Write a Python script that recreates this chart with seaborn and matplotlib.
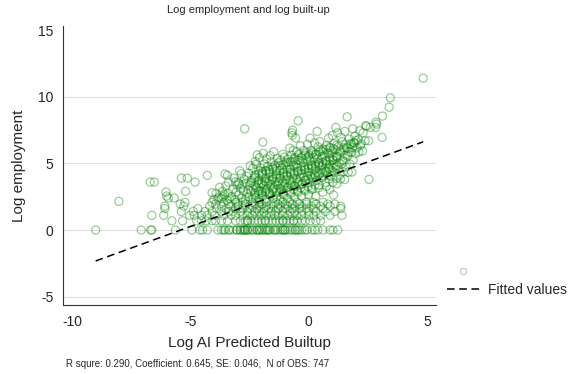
import numpy as np
import pandas as pd
import matplotlib
matplotlib.use("Agg")
import matplotlib.pyplot as plt
from matplotlib.lines import Line2D
import seaborn as sns

# ---- data -------------------------------------------------------------
# Districts with a small, discrete employment count sit on horizontal rows
# (log 1, log 2, ... log 8); larger counts form a continuous cloud.
row_levels = [0.0, 0.69, 1.10, 1.39, 1.61, 1.79, 1.95, 2.08]
row_builtup = [
    # log employment = 0
    [-9.03, -7.10, -6.70, -6.65, -5.65, -4.95, -4.62, -4.50, -4.30, -3.85,
     -3.70, -3.60, -3.55, -3.40, -3.35, -3.20, -3.05, -3.05, -2.90, -2.90,
     -2.80, -2.75, -2.70, -2.70, -2.60, -2.60, -2.50, -2.40, -2.35, -2.20,
     -2.20, -2.10, -2.10, -2.00, -1.95, -1.86, -1.80, -1.74, -1.70, -1.65,
     -1.50, -1.44, -1.40, -1.31, -1.20, -1.10, -1.10, -1.02, -1.00, -0.90,
     -0.80, -0.70, -0.59, -0.55, -0.47, -0.40, -0.30, -0.17, -0.08, 0.13,
     0.25, 0.38, 0.60, 0.89, 1.02, 1.23],
    # log employment = 0.69
    [-5.80, -5.35, -4.75, -4.55, -4.35, -4.10, -3.95, -3.70, -3.45, -3.10,
     -2.90, -2.70, -2.60, -2.60, -2.45, -2.30, -2.15, -2.00, -1.85, -1.85,
     -1.70, -1.55, -1.40, -1.25, -1.10, -1.10, -0.95, -0.80, -0.65, -0.65,
     -0.50, -0.30, -0.15, 0.05, 0.30, 0.50],
    # log employment = 1.10
    [-6.65, -6.15, -5.05, -4.85, -4.55, -4.30, -4.00, -3.60, -3.30, -3.10,
     -2.80, -2.60, -2.40, -2.20, -2.00, -1.80, -1.60, -1.45, -1.30, -1.10,
     -0.90, -0.70, -0.50, -0.30, 0.00, 0.20, 0.50, 0.90, 1.40],
    # log employment = 1.39
    [-5.40, -4.90, -4.40, -4.10, -3.70, -3.40, -3.20, -2.90, -2.60, -2.30,
     -2.10, -1.90, -1.60, -1.40, -1.10, -0.80, -0.60, -0.30, 0.00, 0.30,
     0.70, 1.10],
    # log employment = 1.61
    [-6.10, -4.70, -3.90, -3.50, -3.10, -2.80, -2.50, -2.20, -1.90, -1.70,
     -1.30, -1.00, -0.70, -0.40, -0.10, 0.20, 0.60, 1.35],
    # log employment = 1.79
    [-6.10, -5.30, -4.20, -3.70, -3.30, -3.00, -2.70, -2.40, -2.10, -1.80,
     -1.50, -1.20, -0.90, -0.60, -0.30, 0.10, 0.50, 0.90, 1.35],
    # log employment = 1.95
    [-5.45, -3.95, -3.40, -3.00, -2.70, -2.30, -2.00, -1.60, -1.30, -1.00,
     -0.70, -0.40, -0.10, 0.30, 0.80, 1.10],
    # log employment = 2.08
    [-5.25, -4.10, -3.60, -3.10, -2.80, -2.40, -2.10, -1.80, -1.40, -1.10,
     -0.80, -0.50, -0.10, 0.20, 0.60],
]

# Continuous part of the cloud (log built-up, log employment)
cloud_builtup = [
    -8.05, -6.72, -6.55, -6.05, -6.02, -5.95, -5.70, -5.40, -5.22, -5.15,
    -4.82, -4.30, -4.10, -4.02, -3.93, -3.86, -3.81, -3.78, -3.72, -3.64,
    -3.66, -3.57, -3.55, -3.52, -3.47, -3.45, -3.43, -3.41, -3.36, -3.27,
    -3.22, -3.18, -3.13, -3.08, -3.04, -3.11, -3.00, -2.97, -2.89, -2.95,
    -2.93, -2.84, -2.77, -2.81, -2.74, -2.86, -2.72, -2.68, -2.61, -2.57,
    -2.66, -2.63, -2.54, -2.46, -2.51, -2.43, -2.55, -2.48,
    -2.41, -2.29, -2.36, -2.44, -2.31, -2.38, -2.27,
    -2.26, -2.14, -2.22, -2.17, -2.28, -2.13, -2.24, -2.19,
    -2.11, -1.99, -2.07, -2.02, -2.12, -1.98, -2.04, -2.09, -1.95,
    -1.96, -1.84, -1.91, -1.87, -1.97, -1.83, -1.89, -1.93,
    -1.81, -1.69, -1.77, -1.72, -1.82, -1.68, -1.74, -1.79,
    -1.66, -1.54, -1.62, -1.57, -1.67, -1.53, -1.59, -1.64,
    -1.51, -1.39, -1.47, -1.42, -1.52, -1.38, -1.44, -1.49,
    -1.36, -1.24, -1.32, -1.27, -1.37, -1.23, -1.29, -1.34,
    -1.21, -1.09, -1.17, -1.12, -1.22, -1.08, -1.14, -1.19, -1.11,
    -1.06, -0.94, -1.02, -0.97, -1.07, -0.93, -0.99, -1.04,
    -0.91, -0.79, -0.87, -0.82, -0.92, -0.78, -0.84, -0.89, -0.81,
    -0.76, -0.64, -0.72, -0.67, -0.77, -0.63, -0.69, -0.74, -0.66,
    -0.70, -0.72, -0.69,
    -0.61, -0.49, -0.57, -0.52, -0.62, -0.48, -0.54, -0.59, -0.51, -0.56,
    -0.45,
    -0.46, -0.34, -0.42, -0.37, -0.47, -0.33, -0.39, -0.44, -0.36,
    -0.31, -0.19, -0.27, -0.22, -0.32, -0.18, -0.24, -0.29, -0.21,
    -0.16, -0.04, -0.12, -0.07, -0.17, -0.03, -0.09, -0.14, -0.06,
    -0.01, 0.11, 0.03, 0.08, -0.02, 0.12, 0.06, 0.01, 0.09, 0.05,
    0.14, 0.26, 0.18, 0.23, 0.13, 0.27, 0.21, 0.16, 0.24,
    0.29, 0.41, 0.33, 0.38, 0.28, 0.42, 0.36, 0.31, 0.39, 0.35,
    0.44, 0.56, 0.48, 0.53, 0.43, 0.57, 0.51, 0.46,
    0.59, 0.71, 0.63, 0.68, 0.58, 0.72, 0.66, 0.61,
    0.74, 0.86, 0.78, 0.83, 0.73, 0.87, 0.81, 0.76, 0.84,
    0.89, 1.01, 0.93, 0.98, 0.88, 1.02, 0.96, 0.91, 0.99,
    1.04, 1.16, 1.08, 1.13, 1.03, 1.17, 1.11, 1.06, 1.14,
    1.19, 1.31, 1.23, 1.28, 1.18, 1.32, 1.26, 1.21,
    1.34, 1.46, 1.38, 1.43, 1.33, 1.47, 1.41, 1.36,
    1.52, 1.58, 1.49, 1.55, 1.50, 1.60, 1.56, 1.52,
    1.67, 1.73, 1.64, 1.70, 1.65, 1.75, 1.71, 1.62,
    1.82, 1.88, 1.79, 1.85, 1.80, 1.90, 1.86,
    1.97, 2.03, 1.94, 2.00, 1.95,
    2.12, 2.18, 2.09, 2.15,
    2.27, 2.21, 2.30,
    2.38, 2.44, 2.41,
    2.55, 2.53, 2.60,
    2.83, 2.87, 2.85,
    3.10, 3.12,
    3.40, 3.45, 4.84,
]

cloud_employment = [
    2.15, 3.60, 3.60, 2.85, 2.55, 2.40, 2.40, 3.90, 2.90, 3.90,
    3.60, 4.10, 2.80, 2.30, 2.75, 2.33, 2.47, 3.20, 2.38, 2.52,
    2.90, 2.63, 4.20, 3.30, 2.25, 4.10, 2.78, 3.60, 2.35, 2.50,
    3.05, 3.90, 2.28, 2.84, 3.36, 3.62, 3.57, 2.64, 3.12, 3.47,
    4.45, 2.42, 2.93, 3.38, 3.82, 4.22, 7.60, 2.27, 2.72, 3.04,
    3.53, 4.03, 2.48, 2.91, 3.34, 3.72, 4.27, 4.83,
    2.34, 2.78, 3.05, 3.56, 3.87, 4.63, 5.14,
    2.41, 2.92, 3.17, 3.66, 3.98, 4.46, 4.93, 5.63,
    2.27, 2.66, 2.97, 3.45, 3.74, 4.26, 4.65, 5.43, 6.60,
    2.55, 2.84, 3.36, 3.68, 4.16, 4.47, 4.96, 5.76,
    2.31, 2.79, 3.07, 3.54, 3.86, 4.35, 4.77, 5.34,
    2.63, 2.96, 3.43, 3.77, 4.24, 4.57, 5.13, 5.58,
    2.37, 2.84, 3.16, 3.63, 3.96, 4.43, 4.86, 5.88,
    2.52, 2.87, 3.34, 3.66, 4.13, 4.47, 5.04, 5.37,
    2.28, 2.74, 3.07, 3.54, 3.87, 4.33, 4.66, 5.24, 5.68,
    2.63, 2.97, 3.44, 3.76, 4.23, 4.56, 5.04, 5.47,
    2.38, 2.83, 3.26, 3.73, 4.06, 4.54, 4.87, 5.33, 6.15,
    2.73, 3.06, 3.54, 3.87, 4.36, 4.83, 5.16, 5.63, 5.97,
    7.10, 7.30, 7.50,
    2.47, 2.93, 3.27, 3.84, 4.17, 4.64, 4.96, 5.43, 5.87, 6.90,
    8.20,
    2.83, 3.16, 3.63, 3.97, 4.44, 4.76, 5.23, 5.67, 6.33,
    2.57, 3.04, 3.47, 3.93, 4.26, 4.73, 5.06, 5.54, 5.97,
    2.93, 3.27, 3.74, 4.06, 4.53, 4.86, 5.33, 5.77, 6.43,
    2.67, 3.14, 3.56, 4.04, 4.37, 4.84, 5.17, 5.63, 5.96, 6.90,
    3.04, 3.37, 3.84, 4.16, 4.63, 4.97, 5.44, 5.86, 6.53,
    2.53, 3.17, 3.73, 4.07, 4.54, 4.86, 5.33, 5.67, 6.24, 7.40,
    3.37, 3.93, 4.27, 4.74, 5.06, 5.53, 5.97, 6.63,
    2.83, 3.56, 4.04, 4.37, 4.84, 5.16, 5.63, 6.07,
    3.27, 3.84, 4.17, 4.63, 4.96, 5.43, 5.77, 6.34, 6.90,
    3.03, 3.57, 4.04, 4.46, 4.93, 5.27, 5.74, 6.16, 7.10,
    2.63, 3.87, 4.34, 4.76, 5.23, 5.57, 6.04, 6.47, 7.70,
    3.47, 4.14, 4.56, 5.04, 5.46, 5.93, 6.27, 7.30,
    3.83, 4.37, 4.94, 5.26, 5.83, 6.17, 6.63, 6.97,
    3.80, 4.74, 5.16, 5.63, 5.97, 6.18, 6.44, 7.40,
    4.33, 4.96, 5.54, 5.86, 6.13, 6.47, 6.83, 8.50,
    4.35, 5.27, 5.83, 6.17, 6.43, 6.57, 7.60,
    5.73, 6.16, 6.53, 6.72, 7.05,
    5.87, 6.34, 6.78, 7.45,
    5.93, 6.47, 7.30,
    6.70, 7.78, 7.84,
    3.80, 6.70, 7.70,
    7.70, 7.95, 8.10,
    6.95, 8.55,
    9.22, 9.93, 11.40,
]

# Dense core around the fitted line
core_builtup = [
    -2.28, -2.28, -2.28, -2.12, -2.12, -2.12, -1.97, -1.97, -1.97,
    -1.82, -1.82, -1.82, -1.67, -1.67, -1.67, -1.52, -1.52, -1.52,
    -1.37, -1.37, -1.37, -1.22, -1.22, -1.22, -1.07, -1.07, -1.07,
    -0.92, -0.92, -0.92, -0.77, -0.77, -0.77, -0.62, -0.62, -0.62,
    -0.47, -0.47, -0.47, -0.32, -0.32, -0.32, -0.17, -0.17, -0.17,
    -0.02, -0.02, -0.02, 0.13, 0.13, 0.13, 0.28, 0.28, 0.28,
    0.43, 0.43, 0.43, 0.58, 0.58, 0.58, 0.73, 0.73, 0.73,
    0.88, 0.88, 0.88, 1.03, 1.03, 1.03, 1.18, 1.18, 1.18,
]
core_employment = [
    2.62, 3.33, 4.12, 2.71, 3.47, 4.21, 2.84, 3.52, 4.38,
    2.93, 3.61, 4.44, 2.76, 3.71, 4.52, 3.08, 3.82, 4.71,
    2.97, 3.91, 4.63, 3.14, 4.02, 4.84, 3.26, 3.97, 4.91,
    3.18, 4.12, 5.07, 3.42, 4.21, 5.12, 3.33, 4.28, 5.31,
    3.57, 4.36, 5.24, 3.46, 4.47, 5.41, 3.71, 4.58, 5.62,
    3.84, 4.63, 5.51, 3.93, 4.76, 5.73, 4.07, 4.81, 5.68,
    4.16, 4.97, 5.86, 4.31, 5.08, 5.92, 4.42, 5.21, 6.04,
    4.57, 5.33, 6.21, 4.68, 5.46, 6.12, 4.83, 5.52, 6.36,
]

# Reported OLS fit
fit_intercept = 3.50
fit_slope = 0.645
note_text = "R squre: 0.290, Coefficient: 0.645, SE: 0.046,  N of OBS: 747"

x_ticks = [-10, -5, 0, 5]
y_ticks = [-5, 0, 5, 10, 15]
grid_levels = [-5, 0, 5, 10]

# ---- assemble ---------------------------------------------------------
xs, ys = [], []
for level, row in zip(row_levels, row_builtup):
    xs.extend(row)
    ys.extend([level] * len(row))
xs.extend(cloud_builtup)
ys.extend(cloud_employment)
xs.extend(core_builtup)
ys.extend(core_employment)
df = pd.DataFrame({"builtup": xs, "employment": ys})

fit_x = np.array([df["builtup"].min(), df["builtup"].max()])
fit_df = pd.DataFrame({"builtup": fit_x,
                       "fitted": fit_intercept + fit_slope * fit_x})

# ---- figure -----------------------------------------------------------
sns.set_theme(style="white")
plt.rcParams["font.family"] = ["Liberation Sans", "DejaVu Sans"]

fig = plt.figure(figsize=(5.74, 3.74), dpi=100)
ax = fig.add_axes([0.1103, 0.1845, 0.6487, 0.7465])

green = "#008000"
for g in grid_levels:
    ax.axhline(g, color="#dedede", lw=0.8, zorder=0)

sns.scatterplot(data=df, x="builtup", y="employment", ax=ax,
                marker="o", s=34, facecolor="none", edgecolor=green,
                linewidth=0.9, alpha=0.4, legend=False, zorder=2)
ax.collections[0].set_facecolor("none")

sns.lineplot(data=fit_df, x="builtup", y="fitted", ax=ax, color="black",
             lw=1.1, dashes=False, legend=False, zorder=3)
ax.lines[-1].set_dashes((5, 3))

ax.set_xlim(-10.4, 5.37)
ax.set_ylim(-5.63, 15.33)
ax.set_xticks(x_ticks)
ax.set_yticks(y_ticks)
ax.set_xticklabels([str(v) for v in x_ticks])
ax.set_yticklabels([str(v) for v in y_ticks])
ax.tick_params(axis="both", direction="out", length=4, width=0.8,
               color="#333333", labelsize=10, pad=3)
for side in ("top", "right"):
    ax.spines[side].set_visible(False)
for side in ("left", "bottom"):
    ax.spines[side].set_color("#333333")
    ax.spines[side].set_linewidth(0.8)

ax.set_xlabel("Log AI Predicted Builtup", fontsize=11, labelpad=5)
ax.set_ylabel("Log employment", fontsize=11, labelpad=9)

fig.text(0.432, 0.972, "Log employment and log built-up",
         ha="center", va="center", fontsize=8)
fig.text(66 / 574, 1 - 364 / 374, note_text, ha="left", va="center",
         fontsize=7)

handles = [
    Line2D([], [], ls="none", marker="o", markersize=4.5,
           markerfacecolor="none", markeredgecolor=green, alpha=0.35,
           markeredgewidth=0.8),
    Line2D([], [], color="black", lw=1.1, dashes=(5, 3)),
]
fig.legend(handles, ["", "Fitted values"], loc="center left",
           bbox_to_anchor=(441 / 574, 1 - 281 / 374), frameon=False,
           fontsize=10, handlelength=2.4, handletextpad=0.6,
           labelspacing=0.3, borderaxespad=0)

fig.savefig("out.png", dpi=100)
